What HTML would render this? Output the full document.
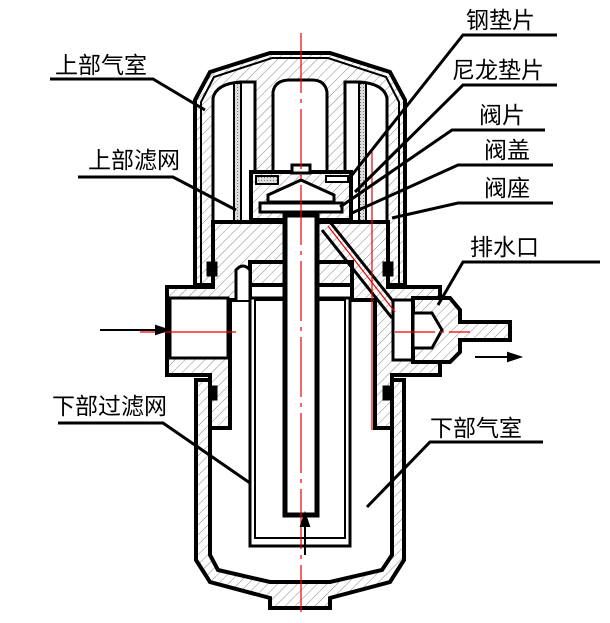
<!DOCTYPE html>
<html><head><meta charset="utf-8"><style>
html,body{margin:0;padding:0;background:#fff;}
svg{display:block;}
text{font-family:"Liberation Sans","Noto Sans CJK SC",sans-serif;font-size:23px;fill:#000;}
</style></head><body>
<svg width="610" height="623" viewBox="0 0 610 623" xmlns="http://www.w3.org/2000/svg">
<defs>
<pattern id="h" width="7" height="7" patternUnits="userSpaceOnUse" patternTransform="rotate(45)">
<rect width="7" height="7" fill="#fff"/><line x1="0" y1="0" x2="0" y2="7" stroke="#888" stroke-width="1"/>
</pattern>
<pattern id="g" width="3" height="3" patternUnits="userSpaceOnUse">
<rect width="3" height="3" fill="#ddd"/><rect width="1" height="1" fill="#777"/>
</pattern>
</defs>
<g stroke="#000" stroke-linejoin="miter">
<!-- upper cap -->
<path d="M270,53 L330,53 L390,72 L405,100 L405,285 L195,285 L195,100 L210,72 Z" fill="url(#h)" stroke-width="4"/>
<path d="M272,58 L328,58 L386,77 L399,102 L399,283 M201,283 L201,102 L214,77 L272,58" fill="none" stroke-width="2"/>
<!-- pockets -->
<path d="M213,222 L213,98 Q216,84 240,82 L255,82 L255,222 Z" fill="#fff" stroke-width="3"/>
<path d="M387,222 L387,98 Q384,84 360,82 L345,82 L345,222 Z" fill="#fff" stroke-width="3"/>
<path d="M273,172 L273,92 Q275,80 290,80 L312,80 Q325,80 327,92 L327,172 Z" fill="#fff" stroke-width="3"/>
<!-- screens -->
<rect x="234" y="83" width="7" height="150" fill="url(#g)" stroke-width="2"/>
<rect x="359" y="83" width="7" height="150" fill="url(#g)" stroke-width="2"/>
<!-- middle body -->
<path d="M213,222 L388,222 L388,287 L440,287 L440,375 L392,375 L392,428 L375,428 L375,300 L352,300 L352,262 L250,262 L250,300 L230,300 L230,428 L210,428 L210,375 L167,375 L167,287 L213,287 Z" fill="url(#h)" stroke-width="4"/>
<rect x="170" y="298" width="58" height="60" fill="#fff" stroke-width="3"/>
<path d="M236,300 L236,270 Q243,262 250,270 L250,300" fill="#fff" stroke-width="3"/>
<!-- valve block -->
<rect x="251" y="172" width="100" height="48" fill="url(#h)" stroke-width="4"/>
<rect x="256" y="176" width="22" height="8" fill="url(#g)" stroke-width="2"/>
<rect x="326" y="176" width="22" height="6" fill="#fff" stroke-width="2"/>
<path d="M268,202 L268,195 L301,180 L334,195 L334,202 Z" fill="#fff" stroke-width="3"/>
<rect x="260" y="203" width="82" height="9" fill="#fff" stroke-width="3"/>
<rect x="292" y="165" width="18" height="8" fill="#fff" stroke-width="3"/>
<!-- seals -->
<rect x="207" y="262" width="10" height="14" fill="#000" stroke-width="1"/>
<rect x="383" y="262" width="10" height="14" fill="#000" stroke-width="1"/>
<rect x="207" y="386" width="10" height="14" fill="#000" stroke-width="1"/>
<rect x="383" y="386" width="10" height="14" fill="#000" stroke-width="1"/>
<!-- diagonal drain passage -->
<path d="M330,222 L400,310" stroke-width="3"/>
<path d="M322,230 L392,318" stroke-width="3"/>
<!-- drain fitting -->
<rect x="393" y="300" width="20" height="60" fill="#fff" stroke-width="3"/>
<path d="M413,298 L450,298 L460,310 L460,322 L510,322 L510,340 L460,340 L460,352 L450,362 L413,362 Z" fill="url(#h)" stroke-width="4"/>
<path d="M413,313 L432,313 L442,330 L432,348 L413,348 Z" fill="#fff" stroke-width="3"/>
<!-- lower bowl -->
<path d="M196,380 L196,560 L210,582 L270,598 L270,608 L330,608 L330,598 L390,582 L404,560 L404,380 L392,380 L392,555 L382,570 L330,582 L270,582 L218,570 L210,555 L210,380 Z" fill="url(#h)" stroke-width="4"/>
<!-- filter element -->
<rect x="250" y="298" width="100" height="248" fill="#fff" stroke-width="3"/>
<rect x="255" y="300" width="90" height="238" fill="#fff" stroke-width="2"/>
<!-- center tube -->
<rect x="285" y="215" width="32" height="300" fill="#fff" stroke-width="5"/>
</g>
<!-- red center lines -->
<g stroke="#e00" stroke-width="1.2" fill="none">
<line x1="301" y1="33" x2="301" y2="612" stroke-dasharray="60,6,4,6"/>
<line x1="140" y1="332" x2="236" y2="332"/>
<line x1="395" y1="332" x2="470" y2="332" stroke-dasharray="40,5,4,5"/>
<line x1="372" y1="150" x2="372" y2="430"/>
<line x1="328" y1="226" x2="395" y2="312"/>
</g>
<!-- arrows -->
<g stroke="#000" stroke-width="2" fill="#000">
<line x1="100" y1="330" x2="160" y2="330"/><path d="M168,330 L156,326 L156,334 Z"/>
<line x1="475" y1="357" x2="512" y2="357"/><path d="M520,357 L508,353 L508,361 Z"/>
<line x1="305" y1="555" x2="305" y2="522"/><path d="M305,514 L301,526 L309,526 Z"/>
</g>
<!-- leaders -->
<g stroke="#000" stroke-width="3" fill="none">
<polyline points="50,79 153,79 205,110"/>
<polyline points="78,177 173,177 236,210"/>
<polyline points="557,35 463,35 352,175"/>
<polyline points="557,85 463,85 355,192"/>
<polyline points="545,130 452,130 340,207"/>
<polyline points="553,165 458,165 352,213"/>
<polyline points="553,203 458,203 392,218"/>
<polyline points="600,262 463,262 438,305"/>
<polyline points="58,423 163,423 250,483"/>
<polyline points="543,442 430,442 367,507"/>
</g>
<text x="466" y="28">钢垫片</text>
<text x="452" y="78">尼龙垫片</text>
<text x="479" y="123">阀片</text>
<text x="484" y="158">阀盖</text>
<text x="484" y="196">阀座</text>
<text x="470" y="255">排水口</text>
<text x="55" y="73">上部气室</text>
<text x="88" y="168">上部滤网</text>
<text x="52" y="414">下部过滤网</text>
<text x="430" y="436">下部气室</text>
</svg>
</body></html>
